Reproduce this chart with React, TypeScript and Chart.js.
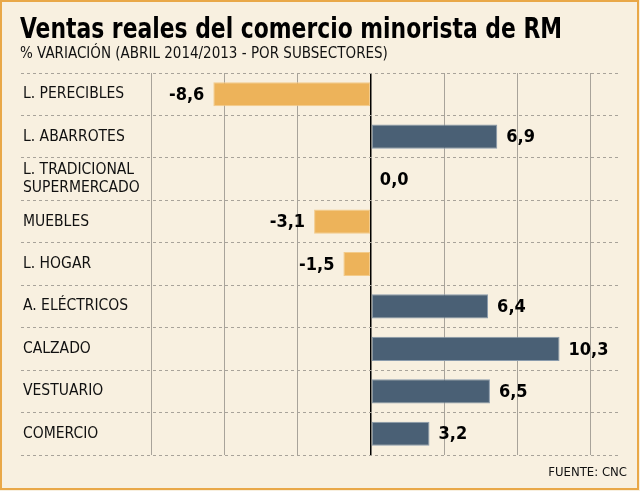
import { useEffect, useRef } from "react";
import { Chart, registerables } from "chart.js";

Chart.register(...registerables);

const categories: (string | string[])[] = [
  "L. PERECIBLES",
  "L. ABARROTES",
  ["L. TRADICIONAL", "SUPERMERCADO"],
  "MUEBLES",
  "L. HOGAR",
  "A. ELÉCTRICOS",
  "CALZADO",
  "VESTUARIO",
  "COMERCIO",
];
const values: number[] = [-8.6, 6.9, 0.0, -3.1, -1.5, 6.4, 10.3, 6.5, 3.2];
const gridTicks: number[] = [-12, -8, -4, 0, 4, 8, 12];

const TITLE = "Ventas reales del comercio minorista de RM";
const SUBTITLE = "% VARIACIÓN (ABRIL 2014/2013 - POR SUBSECTORES)";
const SOURCE = "FUENTE: CNC";

const BG = "#F8F0E0";
const BORDER = "#E9A848";
const POS = "#4A6075";
const NEG = "#EDB35A";
const FONT = "'DejaVu Sans Condensed', 'DejaVu Sans', sans-serif";

const fmt = (v: number) => v.toFixed(1).replace(".", ",");

export default function App() {
  const ref = useRef<HTMLCanvasElement | null>(null);

  useEffect(() => {
    const canvas = ref.current;
    if (!canvas) return;

    const frame = {
      id: "frame",
      beforeDraw(chart: any) {
        const { ctx, width, height } = chart;
        ctx.save();
        ctx.fillStyle = BG;
        ctx.fillRect(0, 0, width, height);
        ctx.strokeStyle = BORDER;
        ctx.lineWidth = 2;
        ctx.strokeRect(1, 1, width - 3, height - 3);
        ctx.fillStyle = "#000";
        ctx.textBaseline = "alphabetic";
        ctx.textAlign = "left";
        ctx.font = `bold 28px ${FONT}`;
        ctx.fillText(TITLE, 20, 38, 542);
        ctx.fillStyle = "#111";
        ctx.font = `15px ${FONT}`;
        ctx.fillText(SUBTITLE, 20, 58, 372);
        ctx.textAlign = "right";
        ctx.font = `13px ${FONT}`;
        ctx.fillText(SOURCE, 627, 476);
        ctx.restore();
      },
      afterDatasetsDraw(chart: any) {
        const { ctx } = chart;
        const meta = chart.getDatasetMeta(0);
        ctx.save();
        ctx.font = `bold 18px ${FONT}`;
        ctx.fillStyle = "#000";
        ctx.textBaseline = "middle";
        meta.data.forEach((bar: any, i: number) => {
          const v = values[i];
          const base = bar.base;
          if (v < 0) {
            ctx.textAlign = "right";
            ctx.fillText(fmt(v), Math.min(bar.x, base) - 9, bar.y + 1);
          } else {
            ctx.textAlign = "left";
            ctx.fillText(fmt(v), Math.max(bar.x, base) + 9, bar.y + 1);
          }
        });
        ctx.restore();
      },
    };

    const chart = new Chart(canvas, {
      type: "bar",
      data: {
        labels: categories,
        datasets: [
          {
            data: values,
            backgroundColor: values.map((v) => (v < 0 ? NEG : POS)),
            borderColor: values.map((v) => (v < 0 ? "#F3CB8A" : "#8A9BAC")),
            borderWidth: 1,
            borderSkipped: false,
            barPercentage: 0.57,
            categoryPercentage: 1,
          },
        ],
      },
      options: {
        indexAxis: "y",
        animation: false,
        responsive: false,
        maintainAspectRatio: false,
        layout: { padding: { left: 17, right: 20, top: 73, bottom: 36 } },
        plugins: {
          legend: { display: false },
          tooltip: { enabled: false },
          title: { display: false },
        },
        scales: {
          x: {
            min: -19.1,
            max: 13.6,
            afterBuildTicks: (axis: any) => {
              axis.ticks = gridTicks.map((v) => ({ value: v }));
            },
            ticks: { display: false },
            grid: {
              drawTicks: false,
              color: (c: any) => (c.tick && c.tick.value === 0 ? "#000" : "#A8A39A"),
              lineWidth: (c: any) => (c.tick && c.tick.value === 0 ? 1.5 : 1),
            },
            border: { display: false },
          },
          y: {
            ticks: {
              mirror: true,
              padding: 2,
              color: "#111",
              font: { family: FONT, size: 15.5 },
            },
            grid: {
              drawTicks: false,
              color: "#A8A39A",
              lineWidth: 1,
            },
            border: { display: false, dash: [3, 3] },
          },
        },
      },
      plugins: [frame],
    });

    return () => chart.destroy();
  }, []);

  return (
    <div style={{ position: "absolute", left: 0, top: 0, width: 640, height: 491 }}>
      <canvas ref={ref} width={640} height={491} style={{ width: 640, height: 491 }} />
    </div>
  );
}
